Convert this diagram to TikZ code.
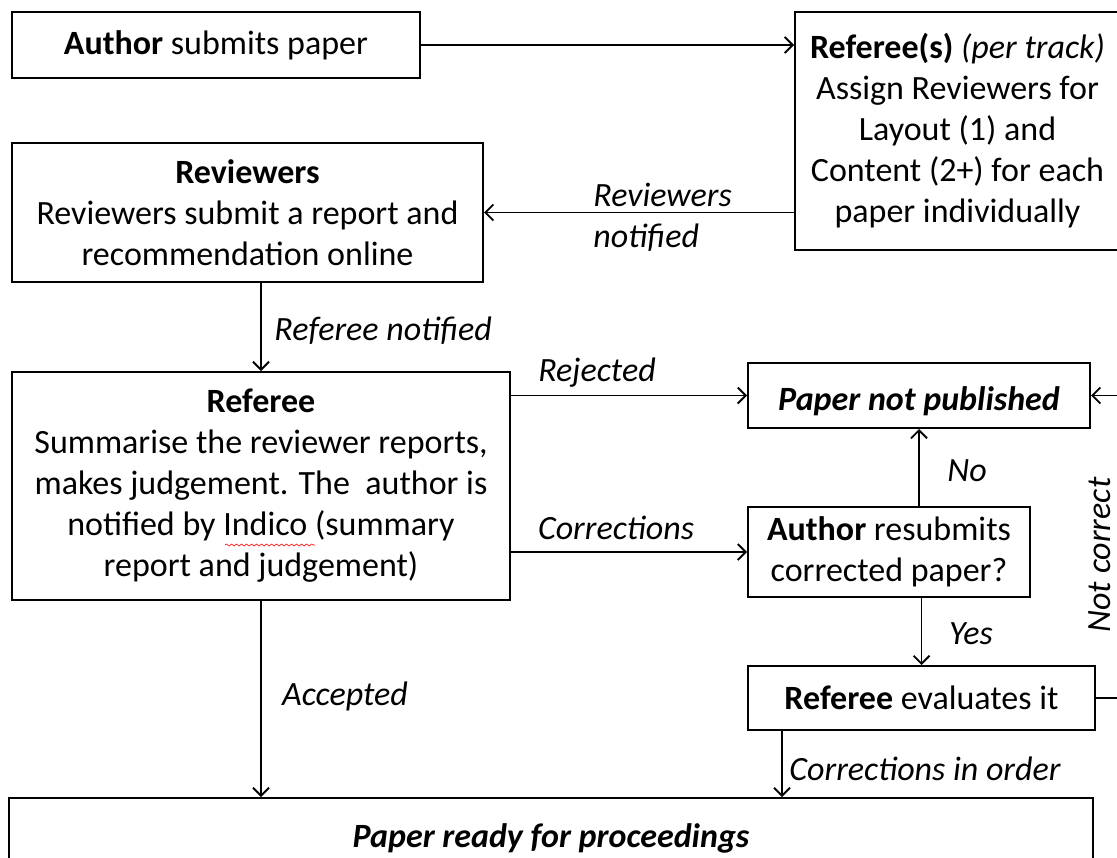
\documentclass[tikz,border=0pt]{standalone}
\usepackage{fontspec}
\setmainfont{Carlito}
\usetikzlibrary{arrows.meta, positioning, decorations.pathmorphing}

\begin{document}
\begin{tikzpicture}[x=0.5pt, y=-0.5pt,
    font=\fontsize{17}{20.5}\selectfont,
    stepbox/.style={rectangle, draw, line width=1pt, align=center, inner sep=2pt},
    flow/.style={-{Straight Barb[length=4pt, width=8pt]}, line width=0.9pt},
    lbl/.style={font=\fontsize{17}{20.5}\selectfont\itshape, inner sep=0pt}]

    \useasboundingbox (0,0) rectangle (1117,857);

    % Boxes
    \node[stepbox, minimum width=204pt, minimum height=33pt] (author) at (216, 45)
        {\textbf{Author} submits paper};
    \node[stepbox, minimum width=162.5pt, minimum height=119pt] (refs) at (957.5, 131)
        {\textbf{Referee(s)} \textit{(per track)}\\Assign Reviewers for\\Layout (1) and\\Content (2+) for each\\paper individually};
    \node[stepbox, minimum width=235.5pt, minimum height=69.5pt] (revs) at (247.5, 212.5)
        {\textbf{Reviewers}\\Reviewers submit a report and\\recommendation online};
    \node[stepbox, minimum width=249pt, minimum height=114pt] (referee) at (261, 486)
        {\textbf{Referee}\\Summarise the reviewer reports,\\makes judgement. The\ \ author is\\notified by Indico (summary\\report and judgement)};
    \node[stepbox, minimum width=171pt, minimum height=32.5pt,
          execute at begin node={\rule{0pt}{18pt}}] (notpub) at (919, 395.5)
        {\textbf{\textit{Paper not published}}};
    \node[stepbox, minimum width=141pt, minimum height=45pt] (resub) at (889, 552)
        {\textbf{Author} resubmits\\corrected paper?};
    \node[stepbox, minimum width=173.5pt, minimum height=32pt] (eval) at (921.5, 698)
        {\textbf{Referee} evaluates it};
    \node[stepbox, minimum width=542pt, minimum height=40pt] (ready) at (551, 838)
        {\textbf{\textit{Paper ready for proceedings}}};

    % spell-check squiggle under Indico
    \draw[red, line width=0.3pt, decorate, decoration={snake, amplitude=0.5pt, segment length=2.5pt}]
        (225, 545) -- (315, 545);

    % Arrows
    \draw[flow] (author.east) -- (refs.west |- author.east);
    \draw[flow] (refs.west |- revs.east) -- (revs.east);
    \draw[flow] (revs.south -| referee.north) -- (referee.north);
    \draw[flow] (referee.east |- notpub.west) -- (notpub.west);
    \draw[flow] (referee.east |- resub.west) -- (resub.west);
    \draw[flow] (resub.north -| notpub.south) -- (notpub.south);
    \draw[flow] (resub.south -| eval.north) -- (eval.north);
    \draw[flow] (eval.east) -- ++(45, 0) |- (notpub.east);
    \draw[flow] ([xshift=17.5pt]eval.south west) -- ([xshift=17.5pt]eval.south west |- ready.north);
    \draw[flow] (referee.south) -- (referee.south |- ready.north);

    % Labels
    \node[lbl, anchor=west, align=left] (l-notified) at (593, 217) {Reviewers\\notified};
    \node[lbl, anchor=west] (l-refnot) at (274, 331) {Referee notified};
    \node[lbl] (l-rejected) at (597, 373) {Rejected};
    \node[lbl] (l-corr) at (616, 528) {Corrections};
    \node[lbl] (l-no) at (967, 471) {No};
    \node[lbl] (l-yes) at (971, 634) {Yes};
    \node[lbl] (l-accepted) at (345, 696) {Accepted};
    \node[lbl, anchor=west] (l-inorder) at (789, 769) {Corrections in order};
    \node[lbl, rotate=90] (l-notcorr) at (1100, 555) {Not correct};
\end{tikzpicture}
\end{document}
